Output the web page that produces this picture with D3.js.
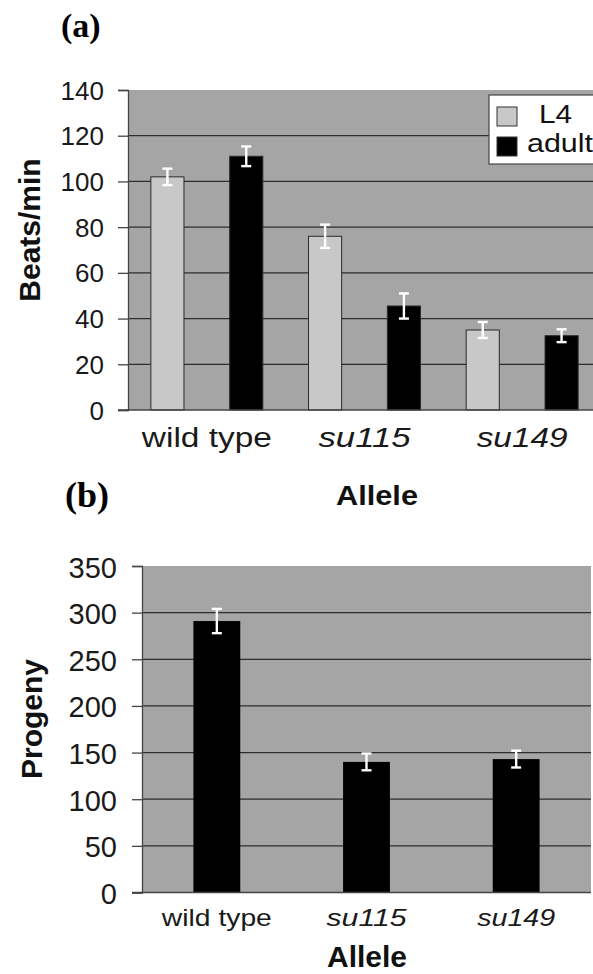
<!DOCTYPE html>
<html>
<head>
<meta charset="utf-8">
<script src="https://cdn.jsdelivr.net/npm/d3@7"></script>
<style>
  html, body { margin: 0; padding: 0; background: #ffffff; }
  svg { display: block; }
</style>
</head>
<body>
<script>
// ---------- data ----------
const categories = ["wild type", "su115", "su149"];
const seriesNames = ["L4", "adult"];
const beatsL4 = [102, 76, 35];
const beatsL4Err = [3.6, 5.1, 3.5];
const beatsAdult = [111, 45.5, 32.5];
const beatsAdultErr = [4.3, 5.5, 2.8];
const progeny = [291, 140, 143];
const progenyErr = [13, 9, 9];
const beatsTicks = [0, 20, 40, 60, 80, 100, 120, 140];
const progenyTicks = [0, 50, 100, 150, 200, 250, 300, 350];

// ---------- styles ----------
const W = 593, H = 974;
const plotBg = "#a5a5a5";
const gridColor = "#2e2e2e";
const l4Fill = "#c8c8c8";
const sans = "'Liberation Sans', Arial, sans-serif";
const serif = "'Liberation Serif', 'Times New Roman', serif";

const svg = d3.select("body").append("svg")
  .attr("width", W).attr("height", H)
  .style("background", "#ffffff");

function drawErr(g, cx, yScale, v, e, cap) {
  g.append("line").attr("x1", cx).attr("x2", cx)
    .attr("y1", yScale(v + e)).attr("y2", yScale(v - e))
    .attr("stroke", "#ffffff").attr("stroke-width", 2.4);
  [v + e, v - e].forEach(t => {
    g.append("line").attr("x1", cx - cap / 2).attr("x2", cx + cap / 2)
      .attr("y1", yScale(t)).attr("y2", yScale(t))
      .attr("stroke", "#ffffff").attr("stroke-width", 2.4);
  });
}

// ================= Panel (a) =================
{
  const left = 128, right = 601, top = 90, bottom = 410;
  const y = d3.scaleLinear().domain([0, 140]).range([bottom, top]);
  const x0 = d3.scaleBand().domain(categories).range([left, right]).padding(0);
  const x1 = d3.scaleBand().domain(seriesNames).range([0, x0.bandwidth()])
    .paddingInner(0.58).paddingOuter(0.29);

  const g = svg.append("g");
  g.append("rect").attr("x", left).attr("y", top)
    .attr("width", right - left).attr("height", bottom - top).attr("fill", plotBg);

  // gridlines
  g.append("g").selectAll("line").data(beatsTicks.filter(t => t > 0 && t < 140)).join("line")
    .attr("x1", left).attr("x2", right)
    .attr("y1", d => y(d)).attr("y2", d => y(d))
    .attr("stroke", gridColor).attr("stroke-width", 1.3);

  // y axis
  const ya = g.append("g").attr("transform", `translate(${left},0)`)
    .call(d3.axisLeft(y).tickValues(beatsTicks).tickSize(10).tickPadding(14));
  ya.select(".domain").attr("stroke", "#444").attr("stroke-width", 1.3);
  ya.selectAll(".tick line").attr("stroke", "#444").attr("stroke-width", 1.3);
  ya.selectAll(".tick text").attr("font-family", sans).attr("font-size", 26)
    .attr("fill", "#1a1a1a").attr("dy", "0.35em");

  // bars
  const rows = categories.map((c, i) => ({
    cat: c,
    vals: [
      { s: "L4", v: beatsL4[i], e: beatsL4Err[i] },
      { s: "adult", v: beatsAdult[i], e: beatsAdultErr[i] }
    ]
  }));
  rows.forEach(r => {
    r.vals.forEach(d => {
      const bx = x0(r.cat) + x1(d.s);
      g.append("rect").attr("x", bx).attr("y", y(d.v))
        .attr("width", x1.bandwidth()).attr("height", y(0) - y(d.v))
        .attr("fill", d.s === "L4" ? l4Fill : "#000000")
        .attr("stroke", "#2a2a2a").attr("stroke-width", 1);
      drawErr(g, bx + x1.bandwidth() / 2, y, d.v, d.e, 10);
    });
  });

  // bottom axis line
  g.append("line").attr("x1", left - 10).attr("x2", right)
    .attr("y1", y(0)).attr("y2", y(0)).attr("stroke", "#444").attr("stroke-width", 1.3);

  // category labels
  const catLen = { "wild type": 130, "su115": 92, "su149": 91 };
  g.append("g").selectAll("text").data(categories).join("text")
    .attr("x", d => x0(d) + x0.bandwidth() / 2).attr("y", 447)
    .attr("text-anchor", "middle")
    .attr("font-family", sans).attr("font-size", 27)
    .attr("font-style", d => d === "wild type" ? "normal" : "italic")
    .attr("fill", "#1a1a1a")
    .attr("textLength", d => catLen[d]).attr("lengthAdjust", "spacingAndGlyphs")
    .text(d => d);

  // axis titles
  g.append("text").attr("x", 377).attr("y", 505).attr("text-anchor", "middle")
    .attr("font-family", sans).attr("font-size", 27).attr("font-weight", "bold")
    .attr("textLength", 82).attr("lengthAdjust", "spacingAndGlyphs")
    .attr("fill", "#111").text("Allele");
  g.append("text").attr("transform", "translate(40,230) rotate(-90)")
    .attr("text-anchor", "middle")
    .attr("font-family", sans).attr("font-size", 30).attr("font-weight", "bold")
    .attr("fill", "#111").text("Beats/min");

  // legend
  const lg = g.append("g");
  lg.append("rect").attr("x", 489).attr("y", 95).attr("width", 130).attr("height", 69)
    .attr("fill", "#ffffff").attr("stroke", "#444").attr("stroke-width", 1.2);
  const legendItems = [
    { s: seriesNames[0], fill: l4Fill, sy: 107, ty: 123, tx: 539, len: 33 },
    { s: seriesNames[1], fill: "#000000", sy: 137, ty: 152, tx: 527, len: 66 }
  ];
  legendItems.forEach(it => {
    lg.append("rect").attr("x", 497).attr("y", it.sy).attr("width", 20).attr("height", 19)
      .attr("fill", it.fill).attr("stroke", "#333").attr("stroke-width", 1);
    lg.append("text").attr("x", it.tx).attr("y", it.ty)
      .attr("font-family", sans).attr("font-size", 25).attr("fill", "#111")
      .attr("textLength", it.len).attr("lengthAdjust", "spacingAndGlyphs")
      .text(it.s);
  });

  // panel letter
  svg.append("text").attr("x", 61).attr("y", 37)
    .attr("font-family", serif).attr("font-size", 34).attr("font-weight", "bold")
    .attr("fill", "#000").text("(a)");
}

// ================= Panel (b) =================
{
  const left = 142, right = 591, top = 566, bottom = 892.5;
  const y = d3.scaleLinear().domain([0, 350]).range([bottom, top]);
  const x = d3.scaleBand().domain(categories).range([left, right])
    .paddingInner(0.687).paddingOuter(0.3435);

  const g = svg.append("g");
  g.append("rect").attr("x", left).attr("y", top)
    .attr("width", right - left).attr("height", bottom - top).attr("fill", plotBg);

  g.append("g").selectAll("line").data(progenyTicks.filter(t => t > 0 && t < 350)).join("line")
    .attr("x1", left).attr("x2", right)
    .attr("y1", d => y(d)).attr("y2", d => y(d))
    .attr("stroke", gridColor).attr("stroke-width", 1.3);

  const ya = g.append("g").attr("transform", `translate(${left},0)`)
    .call(d3.axisLeft(y).tickValues(progenyTicks).tickSize(10).tickPadding(15));
  ya.select(".domain").attr("stroke", "#444").attr("stroke-width", 1.3);
  ya.selectAll(".tick line").attr("stroke", "#444").attr("stroke-width", 1.3);
  ya.selectAll(".tick text").attr("font-family", sans).attr("font-size", 29)
    .attr("fill", "#1a1a1a").attr("dy", "0.38em");

  categories.forEach((c, i) => {
    g.append("rect").attr("x", x(c)).attr("y", y(progeny[i]))
      .attr("width", x.bandwidth()).attr("height", y(0) - y(progeny[i]))
      .attr("fill", "#000000");
    drawErr(g, x(c) + x.bandwidth() / 2, y, progeny[i], progenyErr[i], 10);
  });

  g.append("line").attr("x1", left - 10).attr("x2", right)
    .attr("y1", y(0)).attr("y2", y(0)).attr("stroke", "#444").attr("stroke-width", 1.3);

  const catLen = { "wild type": 110, "su115": 80, "su149": 78 };
  g.append("g").selectAll("text").data(categories).join("text")
    .attr("x", d => x(d) + x.bandwidth() / 2).attr("y", 925.5)
    .attr("text-anchor", "middle")
    .attr("font-family", sans).attr("font-size", 24)
    .attr("font-style", d => d === "wild type" ? "normal" : "italic")
    .attr("fill", "#1a1a1a")
    .attr("textLength", d => catLen[d]).attr("lengthAdjust", "spacingAndGlyphs")
    .text(d => d);

  g.append("text").attr("x", 367).attr("y", 966.5).attr("text-anchor", "middle")
    .attr("font-family", sans).attr("font-size", 30).attr("font-weight", "bold")
    .attr("fill", "#111").text("Allele");
  g.append("text").attr("transform", "translate(42,719) rotate(-90)")
    .attr("text-anchor", "middle")
    .attr("font-family", sans).attr("font-size", 30).attr("font-weight", "bold")
    .attr("fill", "#111").text("Progeny");

  svg.append("text").attr("x", 65).attr("y", 507)
    .attr("font-family", serif).attr("font-size", 36).attr("font-weight", "bold")
    .attr("fill", "#000").text("(b)");
}
</script>
</body>
</html>
